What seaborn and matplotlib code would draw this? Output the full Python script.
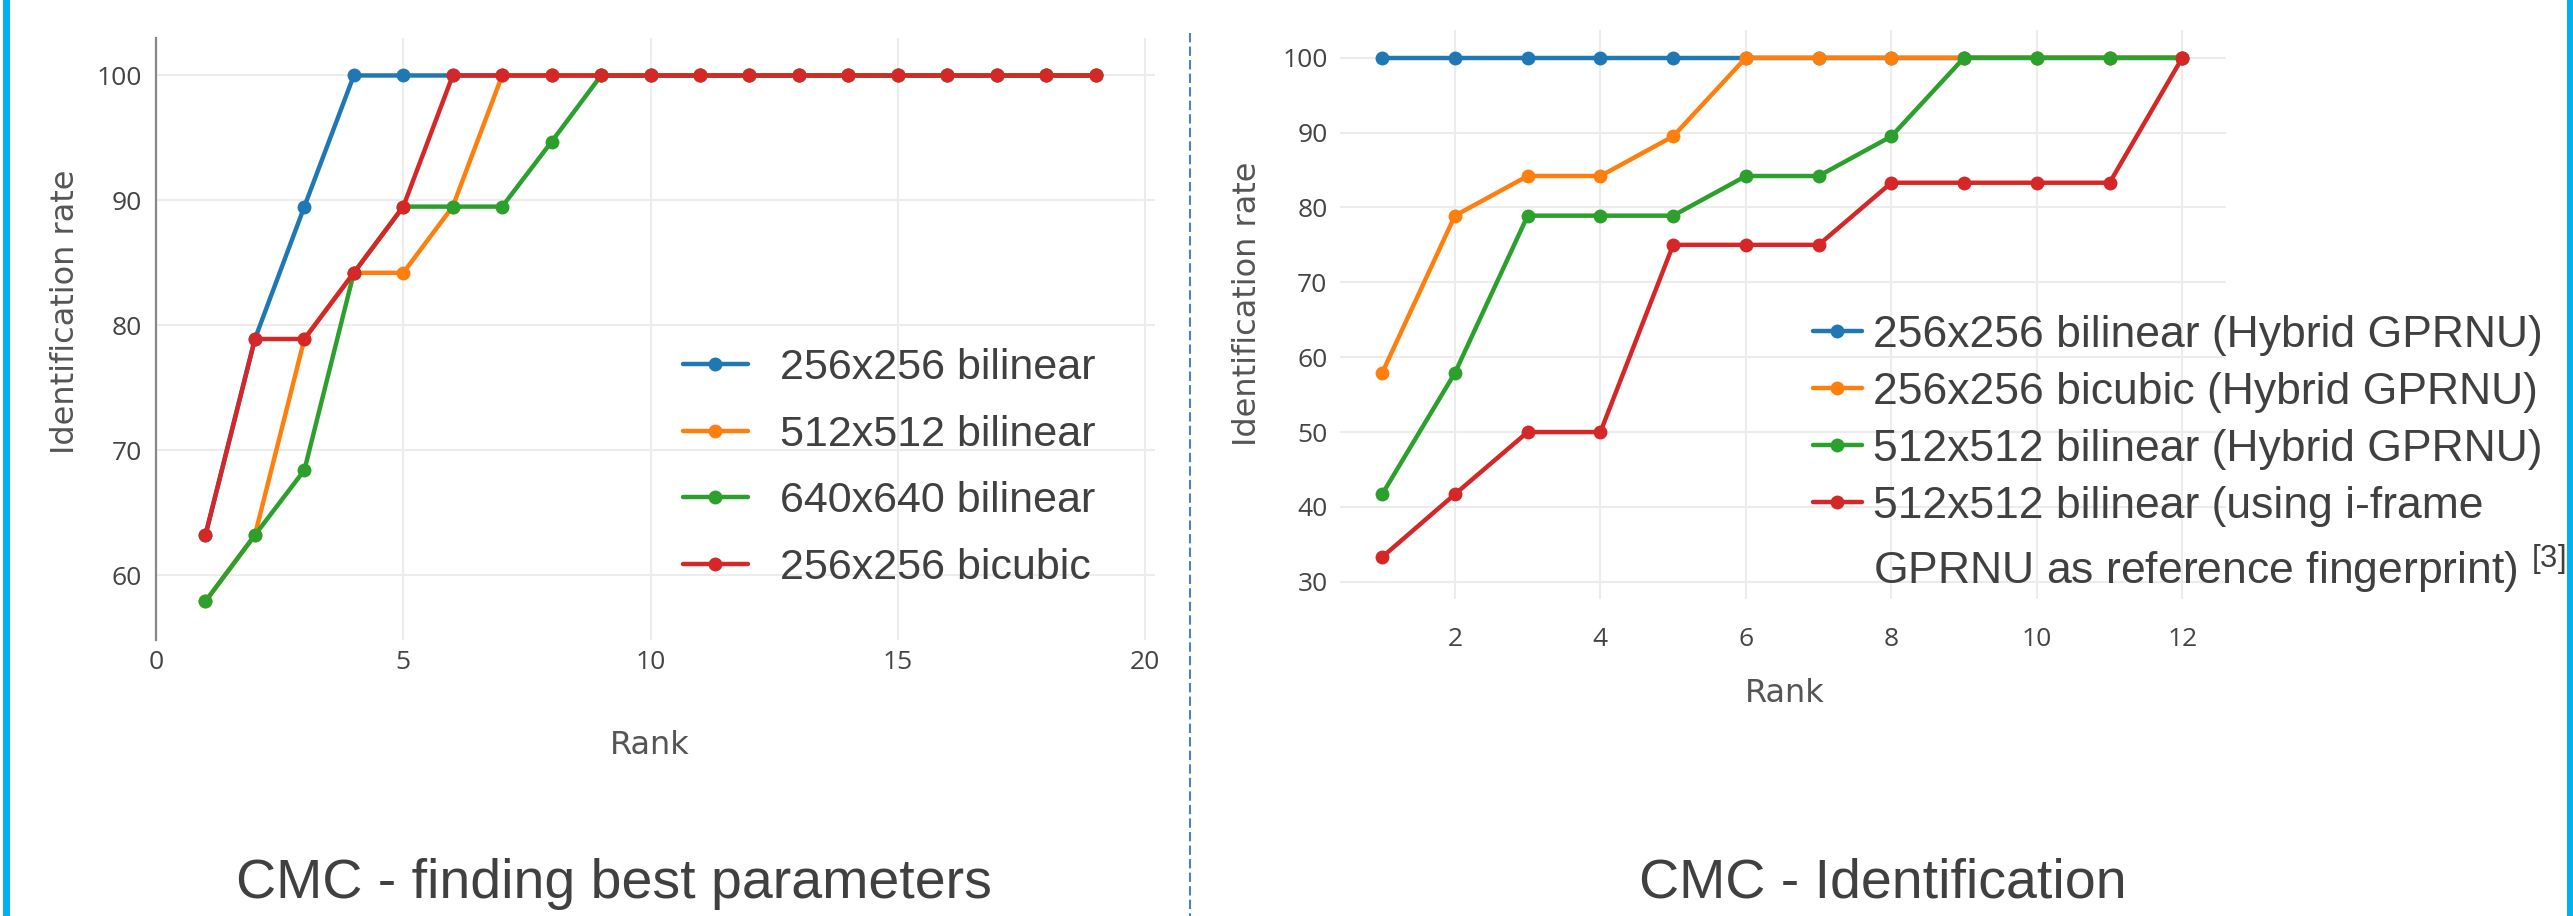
import numpy as np
import pandas as pd
import seaborn as sns
import matplotlib.pyplot as plt
from matplotlib.lines import Line2D
from matplotlib.patches import Rectangle

# ---- data ----
colors = ['#1f77b4', '#ff7f0e', '#2ca02c', '#d62728']

rank_left = list(range(1, 20))
names_left = ['256x256 bilinear', '512x512 bilinear', '640x640 bilinear', '256x256 bicubic']
left_256_bilinear = [63.2, 78.9, 89.5] + [100] * 16
left_512_bilinear = [57.9, 63.2, 78.9, 84.2, 84.2, 89.5] + [100] * 13
left_640_bilinear = [57.9, 63.2, 68.4, 84.2, 89.5, 89.5, 89.5, 94.7] + [100] * 11
left_256_bicubic = [63.2, 78.9, 78.9, 84.2, 89.5] + [100] * 14

rank_right = list(range(1, 13))
names_right = ['256x256 bilinear (Hybrid GPRNU)', '256x256 bicubic (Hybrid GPRNU)',
               '512x512 bilinear (Hybrid GPRNU)', '512x512 bilinear (using i-frame']
right_256_bilinear = [100] * 12
right_256_bicubic = [57.9, 78.9, 84.2, 84.2, 89.5, 100, 100, 100, 100, 100, 100, 100]
right_512_bilinear = [41.7, 57.9, 78.9, 78.9, 78.9, 84.2, 84.2, 89.5, 100, 100, 100, 100]
right_512_iframe = [33.3, 41.7, 50, 50, 75, 75, 75, 83.3, 83.3, 83.3, 83.3, 100]

left_ticks_x = [0, 5, 10, 15, 20]
left_ticks_y = [60, 70, 80, 90, 100]
right_ticks_x = [2, 4, 6, 8, 10, 12]
right_ticks_y = [30, 40, 50, 60, 70, 80, 90, 100]


def long_form(ranks, names, series):
    rows = []
    for name, vals in zip(names, series):
        for r, v in zip(ranks, vals):
            rows.append({'Rank': r, 'rate': v, 'series': name})
    return pd.DataFrame(rows)


df_left = long_form(rank_left, names_left,
                    [left_256_bilinear, left_512_bilinear, left_640_bilinear, left_256_bicubic])
df_right = long_form(rank_right, names_right,
                     [right_256_bilinear, right_256_bicubic, right_512_bilinear, right_512_iframe])

# ---- style ----
sns.set_style('white')
plt.rcParams['font.family'] = ['Open Sans', 'DejaVu Sans']
plt.rcParams['mathtext.default'] = 'regular'

W, H = 2573, 916
fig = plt.figure(figsize=(W / 100, H / 100), dpi=100)

ax1 = fig.add_axes([156 / W, 1 - 640 / H, (1155 - 156) / W, (640 - 38) / H])
ax2 = fig.add_axes([1340 / W, 1 - 599 / H, (2226 - 1340) / W, (599 - 30) / H])

tick_col = '#444444'
txt_col = '#404040'
grid_col = '#ececec'

for ax, df, names in [(ax1, df_left, names_left), (ax2, df_right, names_right)]:
    sns.lineplot(data=df, x='Rank', y='rate', hue='series', hue_order=names,
                 palette=colors, marker='o', markersize=10, markeredgewidth=0,
                 linewidth=3.2, legend=False, ax=ax, zorder=3)
    ax.grid(True, color=grid_col, linewidth=1.5)
    ax.set_axisbelow(True)
    for s in ax.spines.values():
        s.set_visible(False)
    ax.set_xlabel('')
    ax.set_ylabel('')

ax1.set_xlim(0, 20.2)
ax1.set_ylim(54.8, 103.0)
ax1.set_xticks(left_ticks_x)
ax1.set_yticks(left_ticks_y)
ax1.spines['left'].set_visible(True)
ax1.spines['left'].set_color('#888888')
ax1.spines['left'].set_linewidth(1.6)
ax1.tick_params(axis='y', length=0, pad=10, labelsize=19, labelcolor=tick_col)
ax1.tick_params(axis='x', length=0, pad=7, labelsize=19, labelcolor=tick_col)

ax2.set_xlim(0.42, 12.6)
ax2.set_ylim(27.7, 103.7)
ax2.set_xticks(right_ticks_x)
ax2.set_yticks(right_ticks_y)
ax2.tick_params(axis='y', length=0, pad=9, labelsize=19, labelcolor=tick_col)
ax2.tick_params(axis='x', length=0, pad=20, labelsize=19, labelcolor=tick_col)

# axis titles
lab_kw = dict(fontsize=23, color='#555555', family='DejaVu Sans')
fig.text(66 / W, 1 - 312 / H, 'Identification rate', rotation=90, ha='center', va='center', **lab_kw)
fig.text(650 / W, 1 - 746 / H, 'Rank', ha='center', va='center', **lab_kw)
fig.text(1247 / W, 1 - 304 / H, 'Identification rate', rotation=90, ha='center', va='center', **lab_kw)
fig.text(1785 / W, 1 - 693 / H, 'Rank', ha='center', va='center', **lab_kw)

# legends
h_left = [Line2D([], [], color=c, lw=3.2, marker='o', markersize=10, markeredgewidth=0) for c in colors]
leg1 = fig.legend(h_left, names_left, loc='upper left', bbox_to_anchor=(683 / W, 1 - 348 / H),
                  frameon=False, prop={'family': 'Liberation Sans', 'size': 31},
                  handlelength=1.5, handletextpad=0.75,
                  labelspacing=0.62, borderpad=0, borderaxespad=0)
for t in leg1.get_texts():
    t.set_color(txt_col)

h_right = [Line2D([], [], color=c, lw=3.2, marker='o', markersize=10, markeredgewidth=0) for c in colors]
h_right.append(Line2D([], [], alpha=0))
labels_right = names_right + ['GPRNU as reference fingerprint) $^{[3]}$']
leg2 = fig.legend(h_right, labels_right, loc='upper left', bbox_to_anchor=(1813 / W, 1 - 315 / H),
                  frameon=False, prop={'family': 'Liberation Sans', 'size': 32},
                  handlelength=1.1, handletextpad=0.25, labelspacing=0.36,
                  borderpad=0, borderaxespad=0)
for t in leg2.get_texts():
    t.set_color(txt_col)

# panel captions
fig.text(614 / W, 1 - 898 / H, 'CMC - finding best parameters', ha='center', va='baseline',
         fontsize=40, color=txt_col, family='Liberation Sans')
fig.text(1883 / W, 1 - 898 / H, 'CMC - Identification', ha='center', va='baseline',
         fontsize=40, color=txt_col, family='Liberation Sans')

# slide decorations
fig.add_artist(Rectangle((3 / W, 0), 7 / W, 1, transform=fig.transFigure, color='#00B0F0', lw=0))
fig.add_artist(Rectangle((2567 / W, 0), 6 / W, 1, transform=fig.transFigure, color='#00B0F0', lw=0))
fig.add_artist(Line2D([1190 / W, 1190 / W], [1 - 33 / H, 0], transform=fig.transFigure,
                      color='#4F81BD', lw=1.5, linestyle=(0, (4.5, 2))))

fig.savefig('out.png', dpi=100)
